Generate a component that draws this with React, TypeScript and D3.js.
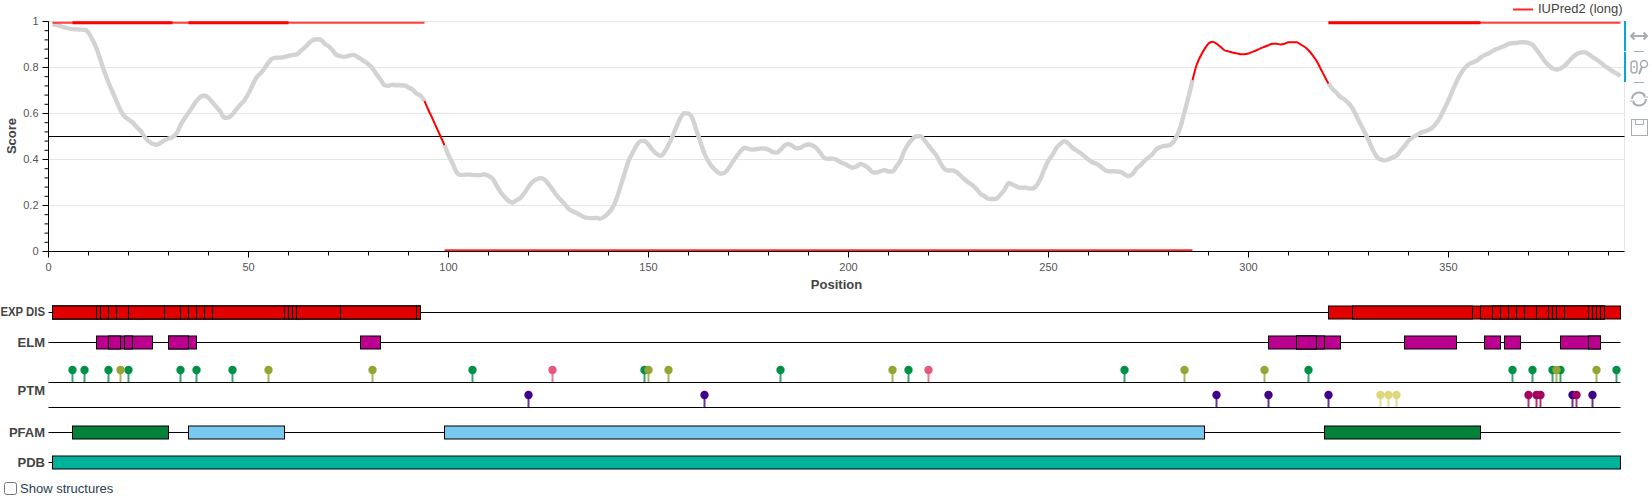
import * as d3 from "d3";

// score per residue, positions 1..393
const SCORES = [
  0.988,0.985,0.98,0.974,0.97,0.967,0.966,0.965,0.964,0.952,0.92,0.883,0.832,0.78,0.735,0.694,0.654,0.614,0.588,0.574,
  0.561,0.542,0.525,0.499,0.48,0.468,0.464,0.472,0.483,0.491,0.497,0.513,0.549,0.578,0.603,0.629,0.655,0.672,0.678,0.668,
  0.648,0.628,0.607,0.581,0.583,0.597,0.619,0.639,0.658,0.687,0.723,0.757,0.774,0.796,0.822,0.839,0.843,0.843,0.846,0.851,
  0.854,0.857,0.871,0.886,0.904,0.919,0.923,0.922,0.904,0.893,0.875,0.855,0.849,0.846,0.851,0.855,0.849,0.838,0.826,0.814,
  0.796,0.771,0.748,0.723,0.72,0.725,0.723,0.723,0.722,0.713,0.704,0.687,0.678,0.655,0.614,0.578,0.539,0.501,0.462,0.419,
  0.383,0.346,0.333,0.333,0.335,0.333,0.332,0.332,0.336,0.328,0.317,0.288,0.259,0.238,0.22,0.213,0.223,0.233,0.255,0.281,
  0.303,0.314,0.319,0.313,0.293,0.27,0.245,0.225,0.207,0.186,0.175,0.167,0.158,0.149,0.146,0.145,0.146,0.143,0.152,0.167,
  0.19,0.229,0.283,0.338,0.393,0.428,0.461,0.48,0.481,0.464,0.442,0.425,0.416,0.432,0.464,0.501,0.543,0.581,0.601,0.599,
  0.577,0.526,0.475,0.425,0.391,0.367,0.349,0.338,0.342,0.362,0.388,0.413,0.436,0.451,0.446,0.443,0.445,0.448,0.448,0.443,
  0.433,0.43,0.442,0.461,0.468,0.459,0.449,0.451,0.461,0.465,0.461,0.449,0.428,0.407,0.403,0.404,0.399,0.388,0.381,0.372,
  0.364,0.37,0.381,0.374,0.362,0.345,0.343,0.349,0.354,0.348,0.348,0.37,0.396,0.439,0.468,0.49,0.501,0.501,0.483,0.461,
  0.439,0.417,0.384,0.359,0.352,0.352,0.346,0.33,0.314,0.3,0.288,0.272,0.251,0.241,0.229,0.228,0.23,0.248,0.268,0.297,
  0.291,0.283,0.277,0.278,0.275,0.274,0.287,0.316,0.359,0.396,0.42,0.451,0.468,0.48,0.468,0.451,0.439,0.428,0.414,0.399,
  0.388,0.381,0.37,0.355,0.349,0.349,0.348,0.346,0.336,0.328,0.336,0.361,0.375,0.394,0.409,0.423,0.445,0.454,0.459,0.461,
  0.472,0.499,0.542,0.607,0.672,0.745,0.81,0.849,0.88,0.904,0.912,0.904,0.89,0.875,0.87,0.865,0.862,0.858,0.858,0.861,
  0.868,0.875,0.883,0.89,0.897,0.903,0.903,0.9,0.903,0.91,0.91,0.91,0.901,0.89,0.875,0.854,0.829,0.796,0.762,0.73,
  0.707,0.69,0.672,0.661,0.646,0.622,0.588,0.554,0.52,0.484,0.445,0.414,0.4,0.396,0.4,0.409,0.417,0.438,0.458,0.481,
  0.496,0.506,0.516,0.522,0.528,0.539,0.559,0.586,0.622,0.658,0.699,0.738,0.771,0.796,0.813,0.822,0.829,0.843,0.854,0.861,
  0.871,0.88,0.887,0.894,0.903,0.906,0.907,0.91,0.91,0.907,0.899,0.878,0.854,0.829,0.81,0.796,0.791,0.796,0.807,0.825,
  0.843,0.858,0.865,0.867,0.858,0.846,0.835,0.822,0.807,0.796,0.784,0.774,0.762,
];
const GREY_RANGES = [[1, 94], [99, 286], [320, 393]];
const RED_RANGES = [[94, 99], [286, 320]];
const TOP_THIN = [[1, 94], [320, 393]];
const TOP_THICK = [[6, 31], [35, 60], [320, 358]];
const BOTTOM_THIN = [[99, 286]];

const X_MAJOR = [0, 50, 100, 150, 200, 250, 300, 350];
const Y_MAJOR = [0, 0.2, 0.4, 0.6, 0.8, 1];

const EXP_DIS = [
  [1, 93], [1, 93], [1, 12], [12, 13], [13, 15], [15, 17], [17, 20], [20, 29], [29, 33], [33, 35], [35, 37], [37, 39], [39, 41],
  [41, 59], [59, 60], [60, 61], [61, 62], [62, 73], [73, 92], [92, 93],
  [320, 393], [326, 356], [358, 361], [361, 363], [363, 365], [365, 367], [367, 369], [369, 372], [372, 375], [375, 376],
  [376, 377], [377, 379], [379, 385], [385, 386], [386, 387], [387, 388], [388, 389], [361, 389],
];
const EXP_EDGES = [12, 13, 15, 17, 20, 29, 33, 35, 37, 39, 41, 59, 60, 61, 62, 73, 92, 326, 356, 358, 361, 363, 365, 367, 369, 372, 375, 376, 377, 379, 385, 386, 387, 388, 389];
const ELM = [
  [12, 26], [15, 18], [19, 21], [30, 37], [30, 35], [78, 83], [305, 323], [312, 319], [312, 317],
  [339, 352], [359, 363], [364, 368], [378, 388], [385, 388],
];
const PFAM_GREEN = [[6, 30], [319, 358]];
const PFAM_BLUE = [[35, 59], [99, 289]];
const PDB = [[1, 393]];

const PTM_S = [6, 9, 15, 20, 33, 37, 46, 106, 149, 183, 215, 269, 315, 366, 371, 376, 378, 392];
const PTM_T = [18, 55, 81, 150, 155, 211, 284, 304, 377, 387];
const PTM_Y = [126, 220];
const PTM_K = [120, 164, 292, 305, 320, 381, 386];
const PTM_R = [333, 335, 337];
const PTM_M = [370, 372, 373, 382];

const FONT = '"Liberation Sans", Arial, sans-serif';
const TRACKS = [
  { label: "ELM", y: 342 },
  { label: "PTM", y: 390 },
  { label: "PFAM", y: 432 },
  { label: "PDB", y: 462 },
];
const TRACK_LINES = [312.5, 342.5, 382.5, 407.5, 432.5, 462.5];

const x = d3.scaleLinear().domain([0, 394]).range([48.5, 1624.5]);
const y = d3.scaleLinear().domain([0, 1]).range([251.5, 21.5]);

const points: [number, number][] = SCORES.map((s, i) => [i + 1, s]);
const line = d3.line<[number, number]>().x((d) => x(d[0])).y((d) => y(d[1])).curve(d3.curveMonotoneX);

function Bars({ ranges, cy, fill }: { ranges: number[][]; cy: number; fill: string }) {
  return (
    <g>
      {ranges.map(([a, b], i) => (
        <rect key={i} x={x(a)} y={cy - 6} width={x(b) - x(a)} height={13}
          fill={fill} stroke="#000" strokeWidth={1} />
      ))}
    </g>
  );
}

function Pins({ sites, base, color }: { sites: number[]; base: number; color: string }) {
  return (
    <g>
      {sites.map((s) => (
        <g key={s}>
          <line x1={x(s)} x2={x(s)} y1={base - 12} y2={base} stroke={color} strokeWidth={2} opacity={0.8} />
          <circle cx={x(s)} cy={base - 12} r={4.2} fill={color} />
        </g>
      ))}
    </g>
  );
}

export default function App() {
  const xMinor = d3.range(0, 391, 10);
  const yMinor = d3.range(0, 1.001, 0.04);
  const right = x.range()[1];

  return (
    <div style={{ position: "absolute", left: 0, top: 0, width: 1652, height: 502 }}>
      <svg width={1652} height={502} style={{ position: "absolute", left: 0, top: 0 }} fontFamily={FONT}>
        {/* Score plot grid */}
        {Y_MAJOR.filter((t) => t > 0).map((t) => (
          <line key={t} x1={x(0)} x2={right} y1={y(t)} y2={y(t)} stroke="#e5e5e5" strokeWidth={1} />
        ))}
        <line x1={right} x2={right} y1={y(1)} y2={y(0)} stroke="#e5e5e5" strokeWidth={1} />
        <line x1={x(0)} x2={right} y1={y(0.5)} y2={y(0.5)} stroke="#000" strokeWidth={1} />

        {/* Score curve and regions */}
        {GREY_RANGES.map(([a, b]) => (
          <path key={a} d={line(points.slice(a - 1, b)) ?? ""} fill="none" stroke="#d3d3d3" strokeWidth={4.4} />
        ))}
        {RED_RANGES.map(([a, b]) => (
          <path key={a} d={line(points.slice(a - 1, b)) ?? ""} fill="none" stroke="#f00" strokeWidth={2} />
        ))}
        {TOP_THIN.map(([a, b]) => (
          <line key={a} x1={x(a)} x2={x(b)} y1={y(0.995)} y2={y(0.995)} stroke="#f00" strokeOpacity={0.75} strokeWidth={2} />
        ))}
        {TOP_THICK.map(([a, b]) => (
          <line key={a} x1={x(a)} x2={x(b)} y1={y(0.995)} y2={y(0.995)} stroke="#f00" strokeWidth={3} />
        ))}
        {BOTTOM_THIN.map(([a, b]) => (
          <line key={a} x1={x(a)} x2={x(b)} y1={y(0.005)} y2={y(0.005)} stroke="#f00" strokeOpacity={0.85} strokeWidth={2} />
        ))}

        {/* Axes */}
        <line x1={x(0)} x2={x(0)} y1={y(1)} y2={y(0)} stroke="#000" strokeWidth={1} />
        <line x1={x(0)} x2={right} y1={y(0)} y2={y(0)} stroke="#000" strokeWidth={1} />
        {yMinor.map((t) => (
          <line key={t} x1={x(0) - 4} x2={x(0)} y1={y(t)} y2={y(t)} stroke="#000" strokeWidth={1} />
        ))}
        {Y_MAJOR.map((t) => (
          <g key={t}>
            <line x1={x(0) - 6} x2={x(0)} y1={y(t)} y2={y(t)} stroke="#000" strokeWidth={1} />
            <text x={x(0) - 10} y={y(t)} dy="0.35em" textAnchor="end" fontSize={11} fill="#555">{t}</text>
          </g>
        ))}
        {xMinor.map((t) => (
          <line key={t} x1={x(t)} x2={x(t)} y1={y(0)} y2={y(0) + 4} stroke="#000" strokeWidth={1} />
        ))}
        {X_MAJOR.map((t) => (
          <g key={t}>
            <line x1={x(t)} x2={x(t)} y1={y(0)} y2={y(0) + 6} stroke="#000" strokeWidth={1} />
            <text x={x(t)} y={271} textAnchor="middle" fontSize={11} fill="#555">{t}</text>
          </g>
        ))}
        <text x={836.5} y={289} textAnchor="middle" fontSize={13} fontWeight={700} fill="#444">Position</text>
        <text transform="translate(16,136) rotate(-90)" textAnchor="middle" fontSize={13} fontWeight={700} fill="#444">Score</text>

        {/* Legend */}
        <line x1={1513} x2={1533} y1={9.5} y2={9.5} stroke="#f00" strokeOpacity={0.85} strokeWidth={2} />
        <text x={1538} y={13} fontSize={13} fill="#444">IUPred2 (long)</text>

        {/* Toolbar */}
        <rect x={1624} y={21} width={2} height={30} fill="#00a8dc" />
        <rect x={1624} y={52} width={2} height={30} fill="#00a8dc" />
        <g stroke="#a6adb5" fill="none" strokeWidth={2}>
          <path d="M1631 36 H1647 M1634.5 32.5 L1631 36 L1634.5 39.5 M1643.5 32.5 L1647 36 L1643.5 39.5" />
          <path d="M1634 51.5 H1644 M1634 82.5 H1644" strokeWidth={1} />
          <rect x={1631} y={61} width={6} height={12} rx={3} strokeWidth={1.5} />
          <path d="M1633 67 H1635" strokeWidth={1.5} />
          <circle cx={1644} cy={64} r={3.5} strokeWidth={1.5} />
          <path d="M1642 67 L1639 74" />
          <path d="M1632 99 A7 7 0 0 1 1645 96 M1646 99 A7 7 0 0 1 1633 102" />
          <path d="M1644 93 V97 H1648 M1634 105 V101 H1630" strokeWidth={1} />
          <rect x={1631.5} y={119.5} width={16} height={16} strokeWidth={1} />
          <path d="M1635.5 119.5 V124.5 H1643.5 V119.5" strokeWidth={1} />
        </g>

        {/* Tracks */}
        {TRACK_LINES.map((ty) => (
          <line key={ty} x1={x(0)} x2={right - 4} y1={ty} y2={ty} stroke="#000" strokeWidth={1} />
        ))}
        <text x={45} y={312} dy="0.35em" textAnchor="end" fontSize={12} fontWeight={700} fill="#444" textLength={44.5} lengthAdjust="spacingAndGlyphs">EXP DIS</text>
        {TRACKS.map((t) => (
          <text key={t.label} x={45} y={t.y} dy="0.35em" textAnchor="end" fontSize={13} fontWeight={700} fill="#444">{t.label}</text>
        ))}

        <Bars ranges={EXP_DIS} cy={312} fill="#e00000" />
        {EXP_EDGES.map((r) => (
          <line key={r} x1={x(r)} x2={x(r)} y1={306} y2={319} stroke="#000" strokeWidth={1} />
        ))}
        <Bars ranges={ELM} cy={342} fill="#bb008f" />
        <Pins sites={PTM_S} base={382} color="#009147" />
        <Pins sites={PTM_T} base={382} color="#95a532" />
        <Pins sites={PTM_Y} base={382} color="#e5587c" />
        <Pins sites={PTM_K} base={407} color="#42008a" />
        <Pins sites={PTM_R} base={407} color="#ded77b" />
        <Pins sites={PTM_M} base={407} color="#a6005e" />
        <Bars ranges={PFAM_GREEN} cy={432} fill="#05823a" />
        <Bars ranges={PFAM_BLUE} cy={432} fill="#78c8f0" />
        <Bars ranges={PDB} cy={462} fill="#00b29b" />
      </svg>
      <label style={{ position: "absolute", left: 4, top: 481, fontFamily: FONT, fontSize: 13, color: "#2c3e50", display: "flex", alignItems: "center" }}>
        <input type="checkbox" style={{ margin: "0 3px 0 0" }} />
        Show structures
      </label>
    </div>
  );
}
